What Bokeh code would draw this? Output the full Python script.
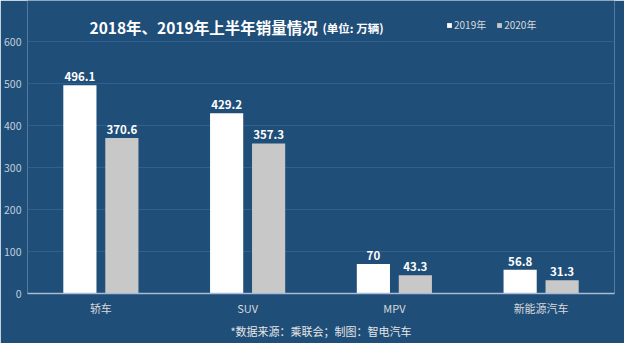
from bokeh.plotting import figure
from bokeh.models import FactorRange, Range1d, ColumnDataSource, Label, FixedTicker, Legend, LegendItem, Title
from bokeh.transform import dodge
from bokeh.core.properties import value
from bokeh.embed import file_html
from bokeh.resources import INLINE

categories = ["轿车", "SUV", "MPV", "新能源汽车"]
series_names = ["2019年", "2020年"]
values_2019 = [496.1, 429.2, 70, 56.8]
values_2020 = [370.6, 357.3, 43.3, 31.3]
y_ticks = [0, 100, 200, 300, 400, 500, 600]

BG = "#1F4E79"
WHITE_BAR = "#FFFFFF"
GRAY_BAR = "#C8C8C8"
GRID = "#30608F"
FONT = "Noto Sans CJK SC"

src = ColumnDataSource(dict(
    cat=categories,
    v19=values_2019,
    v20=values_2020,
    l19=[f"{v:g}" for v in values_2019],
    l20=[f"{v:g}" for v in values_2020],
))

# y range top extends above the last tick to leave room for the title inside the frame
p = figure(width=624, height=343, x_range=FactorRange(*categories), y_range=Range1d(0, 697.8),
           output_backend="svg", toolbar_location=None,
           min_border_left=27, min_border_right=10, min_border_top=0, min_border_bottom=50,
           background_fill_color=BG, border_fill_color=BG, outline_line_color=None)
p.x_range.range_padding = 0

# horizontal gridlines at the tick values (one renderer per line)
for t in y_ticks[1:]:
    p.hspan(y=[t], line_color=GRID, line_width=1)

r1 = p.vbar(x=dodge("cat", -0.143, range=p.x_range), top="v19", width=0.226, source=src,
            fill_color=WHITE_BAR, line_color=None)
r2 = p.vbar(x=dodge("cat", 0.143, range=p.x_range), top="v20", width=0.226, source=src,
            fill_color=GRAY_BAR, line_color=None)

lbl_style = dict(text_color="#FFFFFF", text_font_size="11.5px", text_font_style="bold",
                 text_align="center", text_baseline="bottom", y_offset=-4, text_font=value(FONT))
p.text(x=dodge("cat", -0.143, range=p.x_range), y="v19", text="l19", source=src, **lbl_style)
p.text(x=dodge("cat", 0.143, range=p.x_range), y="v20", text="l20", source=src, **lbl_style)

p.xgrid.visible = False
p.ygrid.visible = False
p.yaxis.ticker = FixedTicker(ticks=y_ticks)
p.yaxis.axis_line_color = None
p.yaxis.major_tick_line_color = None
p.yaxis.minor_tick_line_color = None
p.yaxis.major_tick_out = 0
p.yaxis.major_tick_in = 0
p.yaxis.minor_tick_out = 0
p.yaxis.major_label_text_color = "#C3CEDB"
p.yaxis.major_label_text_font_size = "10.5px"
p.yaxis.major_label_text_font = FONT
p.yaxis.major_label_standoff = 6

p.xaxis.axis_line_color = "#A9BCD3"
p.xaxis.axis_line_width = 1.5
p.xaxis.major_tick_line_color = None
p.xaxis.minor_tick_line_color = None
p.xaxis.major_tick_out = 0
p.xaxis.major_tick_in = 0
p.xaxis.major_label_text_color = "#D9D9D9"
p.xaxis.major_label_text_font_size = "11px"
p.xaxis.major_label_text_font = FONT
p.xaxis.major_label_standoff = 6

FH = 293  # frame height in px

# title (inside the frame, above the 600 gridline)
p.add_layout(Label(x=62, y=FH - 26, x_units="screen", y_units="screen",
                   text="2018年、2019年上半年销量情况", text_color="#FFFFFF",
                   text_font_size="15.5px", text_font_style="bold", text_font=FONT,
                   text_baseline="middle"))
p.add_layout(Label(x=295, y=FH - 27, x_units="screen", y_units="screen",
                   text="(单位: 万辆)", text_color="#FFFFFF",
                   text_font_size="11.5px", text_font_style="bold", text_font=FONT,
                   text_baseline="middle"))

legend = Legend(items=[LegendItem(label=series_names[0], renderers=[r1]),
                       LegendItem(label=series_names[1], renderers=[r2])],
                orientation="horizontal", location=(419, FH - 32),
                background_fill_alpha=0, border_line_color=None,
                label_text_color="#D9D9D9", label_text_font_size="10px", label_text_font=FONT,
                glyph_width=6, glyph_height=6, label_standoff=2, spacing=10, padding=0, margin=0,
                label_height=10, label_text_baseline="middle")
p.add_layout(legend, "center")

# footer
footer = Title(text="*数据来源：乘联会；制图：智电汽车", text_color="#E6E6E6",
               text_font_size="11px", text_font=FONT, text_font_style="normal",
               align="center", offset=-8, standoff=4)
p.add_layout(footer, "below")

open("out.html", "w").write(file_html(p, INLINE))
